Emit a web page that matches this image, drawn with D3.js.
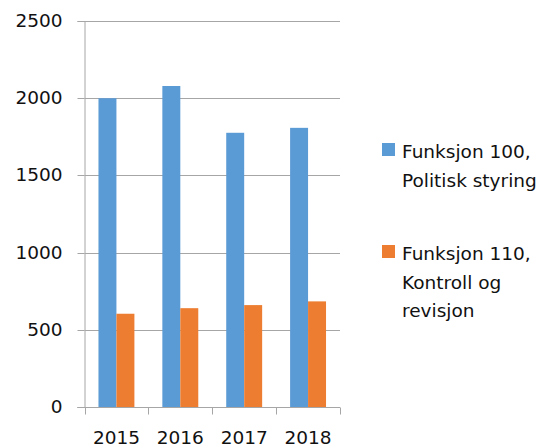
<!DOCTYPE html>
<html><head><meta charset="utf-8">
<script src="https://cdn.jsdelivr.net/npm/d3@7"></script>
<style>body{margin:0;background:#fff}svg{display:block}</style>
</head><body>
<svg id="c" width="557" height="448"></svg>
<script>
const categories = ["2015","2016","2017","2018"];
const seriesNames = [["Funksjon 100,","Politisk styring"],["Funksjon 110,","Kontroll og","revisjon"]];
const series100 = [2000, 2079, 1776, 1808];
const series110 = [604, 640, 660, 684];
const yTicks = [0, 500, 1000, 1500, 2000, 2500];
const colors = ["#5B9BD5", "#ED7D31"];

const svg = d3.select("#c");
const font = "'DejaVu Sans', sans-serif";
const fs = 18.5;
const plotLeft = 84.5, plotRight = 340, plotTop = 21, plotBottom = 407;
const y = d3.scaleLinear().domain([0, 2500]).range([plotBottom, plotTop]);
const x0 = d3.scaleBand().domain(categories).range([plotLeft, plotRight]).paddingInner(0.4375).paddingOuter(0.21875);
const x1 = d3.scaleBand().domain([0,1]).range([0, x0.bandwidth()]);
const grid = "#a6a6a6";

// gridlines
svg.append("g").selectAll("line").data(yTicks.filter(d=>d>0)).join("line")
  .attr("x1", plotLeft).attr("x2", plotRight)
  .attr("y1", d=>Math.round(y(d))+0.5).attr("y2", d=>Math.round(y(d))+0.5)
  .attr("stroke", grid).attr("stroke-width", 1);

// y axis
const yAxis = svg.append("g").attr("transform", `translate(${plotLeft},0)`)
  .call(d3.axisLeft(y).tickValues(yTicks).tickSize(7).tickPadding(15).tickFormat(d3.format("d")));
yAxis.select(".domain").attr("stroke", grid);
yAxis.selectAll(".tick line").attr("stroke", grid);
yAxis.selectAll(".tick").attr("transform", d=>`translate(0,${Math.round(y(d))+0.5})`);
yAxis.selectAll("text").attr("font-family", font).attr("font-size", fs).attr("fill", "#111");

// bars
const data = categories.map((c,i)=>({c, v:[series100[i], series110[i]]}));
const g = svg.append("g").selectAll("g").data(data).join("g")
  .attr("transform", d=>`translate(${x0(d.c)},0)`);
g.selectAll("rect").data(d=>d.v.map((v,k)=>({v,k}))).join("rect")
  .attr("x", d=>x1(d.k)).attr("width", x1.bandwidth())
  .attr("y", d=>y(d.v)).attr("height", d=>plotBottom - y(d.v))
  .attr("fill", d=>colors[d.k]);

// x axis
const xAxisG = svg.append("g").attr("transform", `translate(0,${plotBottom+0.5})`);
xAxisG.append("line").attr("x1", plotLeft-7).attr("x2", plotRight).attr("stroke", grid);
const bounds = categories.map(c=>x0(c) - x0.step()*x0.paddingOuter()).concat([plotRight]);
xAxisG.selectAll("line.t").data(bounds).join("line").attr("class","t")
  .attr("x1", d=>Math.round(d)+0.5).attr("x2", d=>Math.round(d)+0.5).attr("y1", 0).attr("y2", 7)
  .attr("stroke", grid);
xAxisG.selectAll("text").data(categories).join("text")
  .attr("x", d=>x0(d)+x0.bandwidth()/2).attr("y", 36.5)
  .attr("text-anchor","middle").attr("font-family", font).attr("font-size", fs).attr("fill","#111")
  .text(d=>d);

// legend
const legY = [143, 245];
const leg = svg.append("g").selectAll("g").data(seriesNames).join("g")
  .attr("transform", (d,i)=>`translate(382,${legY[i]})`);
leg.append("rect").attr("width", 13).attr("height", 13).attr("fill", (d,i)=>colors[i]);
leg.each(function(d){
  d3.select(this).selectAll("text").data(d).join("text")
    .attr("x", 20).attr("y", (t,j)=>15 + j*28.5)
    .attr("font-family", font).attr("font-size", fs).attr("fill","#111")
    .text(t=>t);
});
</script>
</body></html>
